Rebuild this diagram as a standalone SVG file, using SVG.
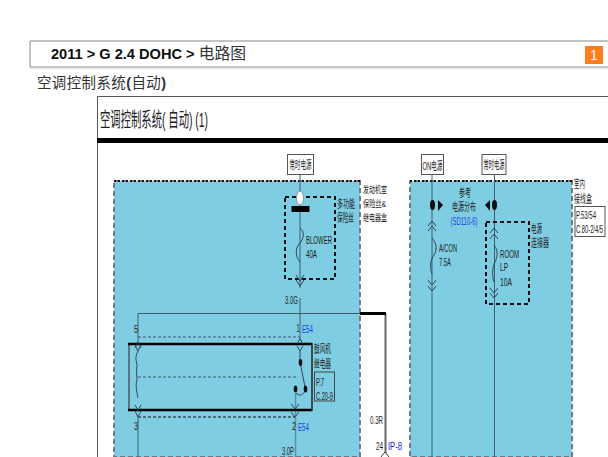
<svg xmlns="http://www.w3.org/2000/svg" width="608" height="457" viewBox="0 0 608 457">
<style>
text{font-family:"Liberation Sans","Noto Sans CJK SC",sans-serif;fill:#222}
.l{font-size:11.500px}
.s{font-size:9.500px}
.b{fill:#1a3fe0}
.w{fill:none;stroke:#3c5f6b;stroke-width:1}
.d{fill:none;stroke:#111;stroke-width:2;stroke-dasharray:4 3}
.t{fill:none;stroke:#456;stroke-width:1;stroke-dasharray:3 2}
.p{fill:#7fcde2;stroke:#778;stroke-width:2;stroke-dasharray:5 3}
.p2{fill:none;stroke:#111;stroke-width:2;stroke-dasharray:2 2}
.x{fill:#fff;stroke:#555;stroke-width:1}
.c{fill:none;stroke:#345;stroke-width:1}
</style>
<rect width="608" height="457" fill="#fff"/>
<g id="header">
<path d="M608 41H30V67H608" fill="none" stroke="#888" stroke-width="1"/>
<path d="M30 68H608" stroke="#ccc" stroke-width="1"/>
<text x="51" y="59" font-size="14.600" font-weight="bold" style="fill:#111">2011 &gt; G 2.4 DOHC &gt; <tspan font-weight="normal" font-size="15.800" style="fill:#333">电路图</tspan></text>
<rect x="585" y="46" width="18" height="18" fill="#ff7d1a"/>
<text x="594" y="60" font-size="14" text-anchor="middle" style="fill:#fff">1</text>
<text x="37" y="88" font-size="14.500" style="fill:#333" textLength="129"><tspan>空调控制系统</tspan><tspan font-weight="bold">(</tspan><tspan>自动</tspan><tspan font-weight="bold">)</tspan></text>
</g>
<g id="frame">
<path d="M608 96.500H97.500V457" fill="none" stroke="#555" stroke-width="1"/>
<rect x="97" y="138" width="511" height="5" fill="#000"/>
<text x="100" y="127" font-size="20" textLength="108" lengthAdjust="spacingAndGlyphs">空调控制系统( 自动) (1)</text>
</g>
<g id="panel-left">
<path class="p" d="M360 181H114V457H360Z"/>
<path class="p2" d="M114 181H360"/>
</g>
<g id="panel-right">
<path class="p" d="M572 181H410V457H572Z"/>
<path class="p2" d="M410 181H572"/>
</g>
<g id="connectors">
<path class="w" d="M300 174V288M300 298V340"/>
<path class="w" d="M432 175V457M494.500 175V457"/>
<path class="w" d="M138 313.500H360M138 313.500V344M138 417V457"/>
<path d="M385.500 313.500V453" fill="none" stroke="#666" stroke-width="2"/>
<path d="M360 313.500H386" fill="none" stroke="#000" stroke-width="3"/>
<path d="M295.500 393V457" stroke="#5a93a8" stroke-width="1.500" fill="none"/>
<path class="c" d="M381 457L385 452L389 457"/>
</g>
<g id="fuse-blower">
<path class="d" d="M285 197H335V279H285Z"/>
<ellipse cx="300" cy="198" rx="3.500" ry="7" fill="#fff" stroke="#456" stroke-width="0.500"/>
<rect x="291.500" y="206" width="18" height="6" fill="#000"/>
<path class="c" d="M300 228C305 232 304 238 300 243C295 248 295 256 300 262M296 275L300 281L304 275M296 280L300 286L304 280"/>
<text x="306" y="244" class="l" textLength="26" lengthAdjust="spacingAndGlyphs">BLOWER</text>
<text x="306" y="258" class="l" textLength="11" lengthAdjust="spacingAndGlyphs">40A</text>
<text x="337" y="208" class="l" textLength="18" lengthAdjust="spacingAndGlyphs">多功能</text>
<text x="337" y="222" class="l" textLength="17" lengthAdjust="spacingAndGlyphs">保险丝</text>
<text x="285" y="304" class="l" textLength="13" lengthAdjust="spacingAndGlyphs">3.0G</text>
</g>
<g id="source-1">
<rect class="x" x="287.500" y="154.500" width="26" height="20"/>
<text x="300.500" y="169" class="l" text-anchor="middle" textLength="22" lengthAdjust="spacingAndGlyphs">常时电源</text>
</g>
<g id="label-engine-box">
<text x="363" y="193" class="s" textLength="24" lengthAdjust="spacingAndGlyphs">发动机室</text>
<text x="363" y="207" class="s" textLength="23" lengthAdjust="spacingAndGlyphs">保险丝&amp;</text>
<text x="363" y="221" class="s" textLength="24" lengthAdjust="spacingAndGlyphs">继电器盒</text>
</g>
<g id="relay">
<path class="t" d="M138 337H300M138 377H296"/>
<path d="M138 417H295" fill="none" stroke="#111" stroke-width="1" stroke-dasharray="3 2"/>
<path d="M129 344V410" stroke="#5b7480" stroke-width="2" fill="none"/>
<path d="M128 344H312M128 410H312" fill="none" stroke="#000" stroke-width="2.500"/>
<path d="M312 343V411" fill="none" stroke="#222" stroke-width="1.500"/>
<path class="c" d="M135 348L138 342L141 348M135 345L138 351L141 345M138 351C134 358 137 362 137 366C136 372 137 376 137 380C135 386 137 392 138 398M135 405L138 410L141 405M135 411L138 417L141 411"/>
<path class="c" d="M297 344L300 339L303 344M297 346L300 351L303 346M300 351V361M300 362L305 387M296 393C299 396 302 396 305 391M291 404L295 409L299 404M291 412L295 417L299 412"/>
<ellipse cx="300.500" cy="362.500" rx="1.800" ry="3.500" fill="#111"/>
<ellipse cx="295.500" cy="389" rx="1.800" ry="3.500" fill="#111"/>
<ellipse cx="305.500" cy="389" rx="1.800" ry="3.500" fill="#111"/>
<text x="134" y="333" class="l" textLength="4" lengthAdjust="spacingAndGlyphs">5</text>
<text x="134" y="430" class="l" textLength="4" lengthAdjust="spacingAndGlyphs">3</text>
<text x="296.500" y="332" class="l" textLength="3" lengthAdjust="spacingAndGlyphs">1</text>
<text x="302" y="333" class="l b" textLength="11" lengthAdjust="spacingAndGlyphs">E54</text>
<text x="292" y="430" class="l" textLength="4" lengthAdjust="spacingAndGlyphs">2</text>
<text x="298" y="431" class="l b" textLength="11" lengthAdjust="spacingAndGlyphs">E54</text>
<text x="314" y="353" class="l" textLength="17" lengthAdjust="spacingAndGlyphs">鼓风机</text>
<text x="314" y="368" class="l" textLength="17" lengthAdjust="spacingAndGlyphs">继电器</text>
<rect x="314.500" y="372" width="20" height="29" fill="none" stroke="#444" stroke-width="1"/>
<text x="316" y="386" class="l" textLength="8" lengthAdjust="spacingAndGlyphs">P.7</text>
<text x="316" y="400" class="l" textLength="17" lengthAdjust="spacingAndGlyphs">C.20-9</text>
<text x="282" y="455" class="l" textLength="12" lengthAdjust="spacingAndGlyphs">3.0P</text>
</g>
<g id="labels-ip">
<text x="370" y="424" class="l" textLength="13" lengthAdjust="spacingAndGlyphs">0.3R</text>
<text x="376" y="450" class="l" textLength="7" lengthAdjust="spacingAndGlyphs">24</text>
<text x="388" y="450" class="l" style="fill:#2222dd" textLength="14" lengthAdjust="spacingAndGlyphs">IP-8</text>
</g>
<g id="source-2">
<rect class="x" x="421.500" y="154.500" width="22" height="20"/>
<text x="432.500" y="170" class="l" text-anchor="middle" textLength="20" lengthAdjust="spacingAndGlyphs">ON电源</text>
</g>
<g id="source-3">
<rect class="x" x="482" y="154.500" width="24" height="20"/>
<text x="494" y="169" class="l" text-anchor="middle" textLength="21" lengthAdjust="spacingAndGlyphs">常时电源</text>
</g>
<g id="power-ref">
<ellipse cx="432.500" cy="205" rx="2.500" ry="5" fill="#111"/>
<path d="M438 200L443 205L438 211Z" fill="#111"/>
<ellipse cx="494.500" cy="205" rx="2.500" ry="5" fill="#111"/>
<path d="M490 200L485 205L490 211Z" fill="#111"/>
<text x="465" y="197" class="l" text-anchor="middle" textLength="12" lengthAdjust="spacingAndGlyphs">参考</text>
<text x="464" y="211" class="l" text-anchor="middle" textLength="24" lengthAdjust="spacingAndGlyphs">电源分布</text>
<text x="464" y="225" class="l b" text-anchor="middle" textLength="27" lengthAdjust="spacingAndGlyphs">(SD110-6)</text>
</g>
<g id="fuse-acon">
<path class="c" d="M428 226L432 221L436 226M428 231L432 226L436 231M432 238C437 244 437 250 434 255C430 260 430 268 432 274M428 280L432 285L436 280M428 286L432 291L436 286"/>
<text x="439" y="252" class="l" textLength="18" lengthAdjust="spacingAndGlyphs">A/CON</text>
<text x="439" y="266" class="l" textLength="12" lengthAdjust="spacingAndGlyphs">7.5A</text>
</g>
<g id="fuse-room">
<path class="d" d="M486 222H529V304H486Z"/>
<path class="c" d="M490 233L494 228L498 233M490 239L494 234L498 239M494 245C499 251 497 258 495 262C492 268 492 276 494 282M490 288L494 293L498 288M490 293L494 298L498 293"/>
<text x="500" y="258" class="l" textLength="19" lengthAdjust="spacingAndGlyphs">ROOM</text>
<text x="500" y="271" class="l" textLength="8" lengthAdjust="spacingAndGlyphs">LP</text>
<text x="500" y="286" class="l" textLength="12" lengthAdjust="spacingAndGlyphs">10A</text>
<text x="531" y="233" class="l" textLength="11" lengthAdjust="spacingAndGlyphs">电源</text>
<text x="531" y="247" class="l" textLength="18" lengthAdjust="spacingAndGlyphs">连接器</text>
</g>
<g id="label-interior-box">
<text x="574" y="188" class="l" textLength="11" lengthAdjust="spacingAndGlyphs">室内</text>
<text x="574" y="203" class="l" textLength="18" lengthAdjust="spacingAndGlyphs">接线盒</text>
<rect x="575" y="206.500" width="30" height="30" fill="#fff" stroke="#555" stroke-width="1"/>
<text x="576" y="219" class="l" textLength="20" lengthAdjust="spacingAndGlyphs">P.53/54</text>
<text x="576" y="233" class="l" textLength="27" lengthAdjust="spacingAndGlyphs">C.80-2/4/5</text>
</g>
</svg>
